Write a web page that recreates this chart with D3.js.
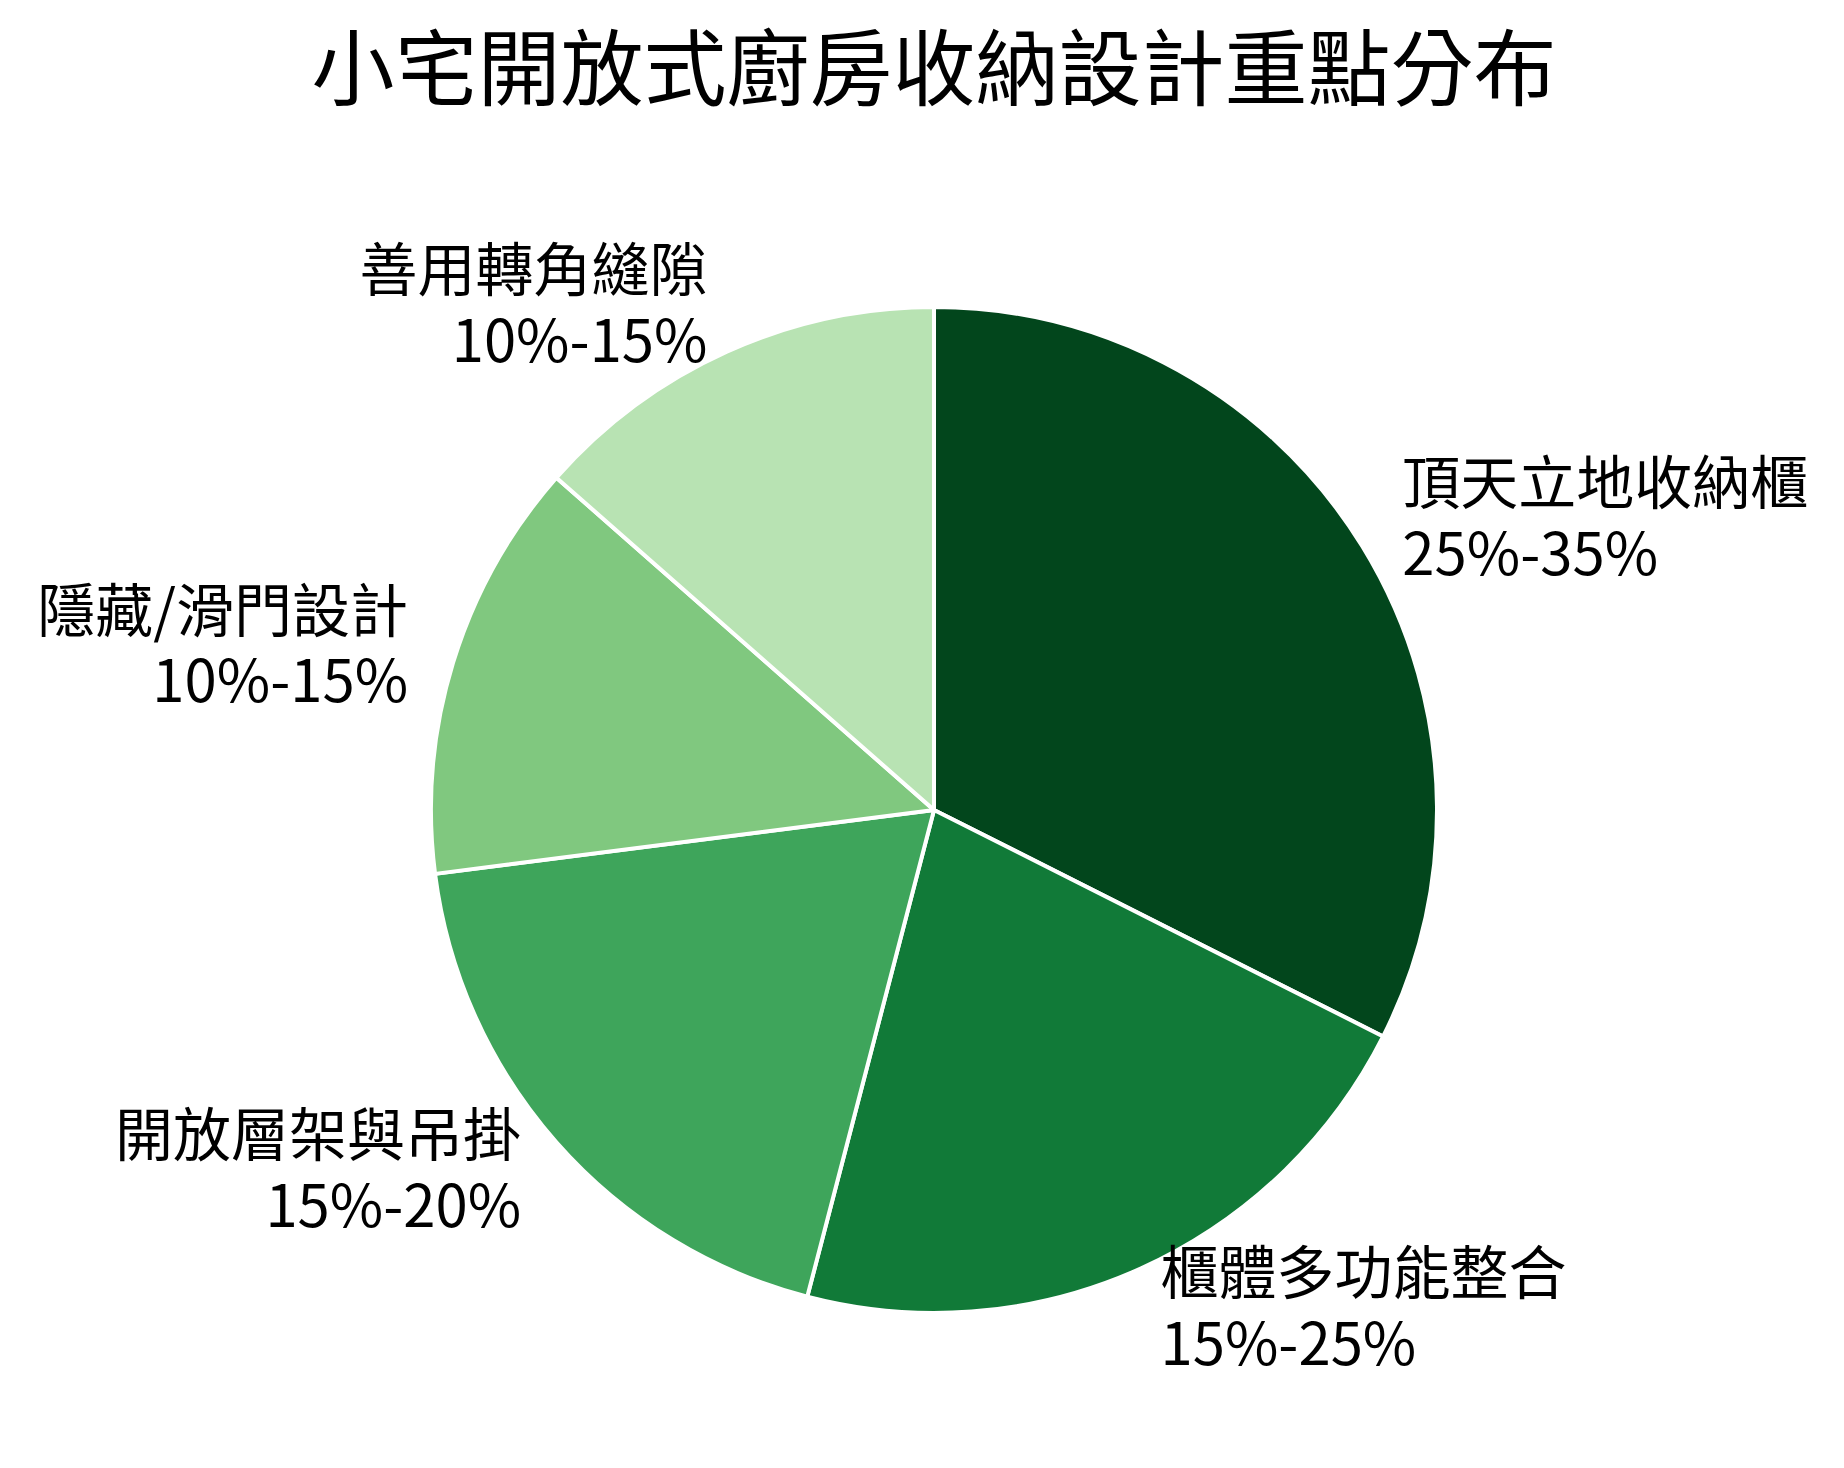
<!DOCTYPE html>
<html>
<head>
<meta charset="utf-8">
<script src="https://cdnjs.cloudflare.com/ajax/libs/d3/7.8.5/d3.min.js"></script>
<style>
  html, body { margin: 0; padding: 0; background: #fff; }
  text { font-family: "Noto Sans CJK TC", "Noto Sans CJK SC", "Noto Sans", sans-serif; fill: #000; }
</style>
</head>
<body>
<div class="pie"></div>
<script>
var width = 1844
var height = 1468

// data
var categories = ['頂天立地收納櫃', '櫃體多功能整合', '開放層架與吊掛', '隱藏/滑門設計', '善用轉角縫隙']
var ranges = ['25%-35%', '15%-25%', '15%-20%', '10%-15%', '10%-15%']
var values = [30, 20, 17.5, 12.5, 12.5]
var sliceColors = ['#02461c', '#117a38', '#3ea55b', '#80c87f', '#b8e3b3']

var cx = 934, cy = 810
var radius = 503
var labelRadius = 550

var svg = d3.select('.pie')
  .append('svg')
  .attr('width', width)
  .attr('height', height)

svg.append('text')
  .attr('x', cx)
  .attr('y', 99)
  .attr('text-anchor', 'middle')
  .style('font-size', '83px')
  .text('小宅開放式廚房收納設計重點分布')

var color = d3.scaleOrdinal().domain(categories).range(sliceColors)

var pie = d3.pie()
  .sort(null)
  .value(function(d, i) { return values[i] })

var arcs = pie(categories)

var arc = d3.arc().innerRadius(0).outerRadius(radius)
var labelArc = d3.arc().innerRadius(labelRadius).outerRadius(labelRadius)

var g = svg.append('g').attr('transform', 'translate(' + cx + ',' + cy + ')')

g.selectAll('path')
  .data(arcs)
  .enter().append('path')
  .attr('d', arc)
  .attr('fill', function(d) { return color(d.data) })
  .attr('stroke', '#fff')
  .attr('stroke-width', 4)
  .attr('stroke-linejoin', 'round')

var labels = g.selectAll('text.lbl')
  .data(arcs)
  .enter().append('text')
  .attr('class', 'lbl')
  .attr('transform', function(d) { return 'translate(' + labelArc.centroid(d) + ')' })
  .attr('text-anchor', function(d) {
    var mid = (d.startAngle + d.endAngle) / 2
    return mid < Math.PI ? 'start' : 'end'
  })
  .style('font-size', '58px')

labels.append('tspan')
  .attr('x', 0)
  .attr('dy', '-0.3em')
  .text(function(d) { return d.data })

labels.append('tspan')
  .attr('x', 0)
  .attr('dy', '1.22em')
  .text(function(d) { return ranges[d.index] })
</script>
</body>
</html>
